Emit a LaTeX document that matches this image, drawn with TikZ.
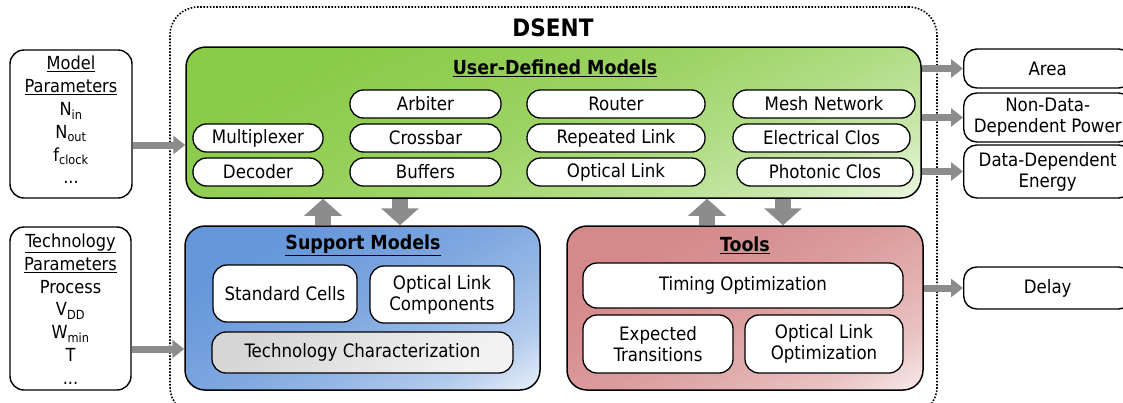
\documentclass[tikz,border=0pt]{standalone}
\usepackage{fontspec}
\setmainfont{DejaVu Sans Condensed}
\usetikzlibrary{arrows.meta}

\definecolor{arrowgray}{HTML}{8C8C8C}
\definecolor{gtop}{HTML}{8ACB48}
\definecolor{gbot}{HTML}{F4FBEF}
\definecolor{btop}{HTML}{6697DA}
\definecolor{bbot}{HTML}{F2F6FC}
\definecolor{rtop}{HTML}{D4898A}
\definecolor{rbot}{HTML}{FBF1F1}
\definecolor{techlight}{HTML}{F2F2F2}
\definecolor{techdark}{HTML}{D6D6D6}

% panel fills: solid colour in the upper left, fading to the pale end at the lower right
\pgfdeclareverticalshading{greenfade}{100bp}{color(0bp)=(gbot); color(14bp)=(gbot); color(27bp)=(gtop!42!gbot); color(39bp)=(gtop!65!gbot); color(50bp)=(gtop!82!gbot); color(62bp)=(gtop!93!gbot); color(72bp)=(gtop); color(100bp)=(gtop)}
\pgfdeclareverticalshading{bluefade}{100bp}{color(0bp)=(bbot); color(14bp)=(bbot); color(27bp)=(btop!45!bbot); color(39bp)=(btop!66!bbot); color(50bp)=(btop!82!bbot); color(62bp)=(btop!93!bbot); color(72bp)=(btop); color(100bp)=(btop)}
\pgfdeclareverticalshading{redfade}{100bp}{color(0bp)=(rbot); color(14bp)=(rbot); color(27bp)=(rtop!45!rbot); color(39bp)=(rtop!66!rbot); color(50bp)=(rtop!82!rbot); color(62bp)=(rtop!93!rbot); color(72bp)=(rtop); color(100bp)=(rtop)}

\tikzset{
  base/.style={font=\fontsize{18.5}{21}\selectfont, align=center, inner sep=0pt},
  outerbox/.style={draw=black, line width=1.6pt, dash pattern=on 1.6pt off 1.6pt, rounded corners=28pt, inner sep=0pt},
  panel/.style={draw=black, line width=1.5pt, rounded corners=20pt, inner sep=0pt},
  pill/.style={base, draw=black, fill=white, line width=1.3pt, rounded corners=13.5pt, minimum height=28pt},
  cell/.style={base, draw=black, fill=white, line width=1.3pt, rounded corners=14pt},
  iobox/.style={draw=black, fill=white, line width=1.4pt, rounded corners=14pt, inner sep=0pt},
  iotext/.style={font=\fontsize{18}{22.8}\selectfont, align=center, inner sep=0pt},
  outbox/.style={base, draw=black, fill=white, line width=1.4pt, rounded corners=13pt, minimum width=168pt, anchor=west},
  paneltitle/.style={font=\bfseries\fontsize{19.4}{22}\selectfont, inner sep=0pt},
  thinarrow/.style={draw=arrowgray, line width=7pt, -{Triangle[length=12pt,width=18pt]}, arrowgray},
  fatarrow/.style={draw=arrowgray, line width=16pt, -{Triangle[length=17pt,width=37pt]}, arrowgray},
}

\begin{document}
\begin{tikzpicture}[x=1pt,y=-1pt]
\useasboundingbox (0,0) rectangle (1123,402);
\clip (0,0) rectangle (1123,402);

% DSENT framework frame
\node[outerbox, minimum width=767pt, minimum height=408pt] (dsent) at (553.5,211) {};
\node[font=\bfseries\fontsize{24}{28}\selectfont, inner sep=0pt] (dsenttitle) at (553,28) {DSENT};

% user-defined models
\node[panel, shade, shading=greenfade, shading angle=25,
      minimum width=735pt, minimum height=151pt] (green) at (553.5,122.5) {};
\node[paneltitle] (greentitle) at (555,68) {\underline{User-Defined Models}};

\node[pill, minimum width=130pt] (mux) at (258,138) {Multiplexer};
\node[pill, minimum width=130pt] (dec) at (258,172) {Decoder};
\node[pill, minimum width=151pt] (arb) at (425.5,104) {Arbiter};
\node[pill, minimum width=151pt] (xbar) at (425.5,138) {Crossbar};
\node[pill, minimum width=151pt] (buf) at (425.5,172) {Buffers};
\node[pill, minimum width=178pt] (router) at (616,104) {Router};
\node[pill, minimum width=178pt] (rlink) at (616,138) {Repeated Link};
\node[pill, minimum width=178pt] (olink) at (616,172) {Optical Link};
\node[pill, minimum width=182pt] (mesh) at (824,104) {Mesh Network};
\node[pill, minimum width=177pt] (eclos) at (821.5,138) {Electrical Clos};
\node[pill, minimum width=176pt] (pclos) at (825,172) {Photonic Clos};

% support models
\node[panel, shade, shading=bluefade, shading angle=30,
      minimum width=355pt, minimum height=164pt] (blue) at (362.5,308) {};
\node[paneltitle] (bluetitle) at (363,245) {\underline{Support Models}};
\node[cell, minimum width=144pt, minimum height=57pt] (stdcells) at (285,293.5) {Standard Cells};
\node[cell, minimum width=144pt, minimum height=57pt] (olcomp) at (442,294.5) {Optical Link\\Components};
\node[cell, top color=techdark, bottom color=techlight, shading angle=45, minimum width=301pt, minimum height=41pt] (techchar) at (362.5,352.5) {Technology Characterization};

% tools
\node[panel, shade, shading=redfade, shading angle=30,
      minimum width=356pt, minimum height=164pt] (red) at (745,308) {};
\node[paneltitle] (redtitle) at (745,245) {\underline{Tools}};
\node[cell, minimum width=320pt, minimum height=45pt] (timing) at (743,285.5) {Timing Optimization};
\node[cell, minimum width=150pt, minimum height=58pt] (exptr) at (658,344) {Expected\\Transitions};
\node[cell, minimum width=158pt, minimum height=58pt] (olopt) at (824,344) {Optical Link\\Optimization};

% inputs
\node[iobox, minimum width=122pt, minimum height=148pt] (modelbox) at (71,124) {};
\node[iotext] (modeltext) at (71,120)
  {\underline{Model}\\\underline{Parameters}\\N\textsubscript{in}\\N\textsubscript{out}\\f\textsubscript{clock}\\...};
\node[iobox, minimum width=121pt, minimum height=163pt] (techbox) at (70.5,308.5) {};
\node[iotext] (techtext) at (70.5,309)
  {\underline{Technology}\\\underline{Parameters}\\Process\\V\textsubscript{DD}\\W\textsubscript{min}\\T\\...};

% outputs
\node[outbox, minimum height=39pt] (area) at (963,68.5) {Area};
\node[outbox, minimum height=49pt] (nddp) at (963,117.5) {\raisebox{-2pt}{Non-Data-}\\\raisebox{-2pt}{Dependent Power}};
\node[outbox, minimum height=53pt] (dde) at (963,171.5) {\raisebox{-2pt}{Data-Dependent}\\\raisebox{-2pt}{Energy}};
\node[outbox, minimum height=42pt] (delay) at (963,288) {Delay};

% connectors
\draw[thinarrow] (modelbox.east |- 0,145) -- (green.west |- 0,145);
\draw[thinarrow] (techbox.east |- 0,349) -- (blue.west |- 0,349);
\draw[thinarrow] (green.east |- area.west) -- (area.west);
\draw[thinarrow] (green.east |- nddp.west) -- (nddp.west);
\draw[thinarrow] (green.east |- dde.west) -- (dde.west);
\draw[thinarrow] (red.east |- delay.west) -- (delay.west);

\draw[fatarrow] (blue.north -| 323,0) -- (green.south -| 323,0);
\draw[fatarrow] (green.south -| 400,0) -- (blue.north -| 400,0);
\draw[fatarrow] (red.north -| 707,0) -- (green.south -| 707,0);
\draw[fatarrow] (green.south -| 783,0) -- (red.north -| 783,0);
\end{tikzpicture}
\end{document}
